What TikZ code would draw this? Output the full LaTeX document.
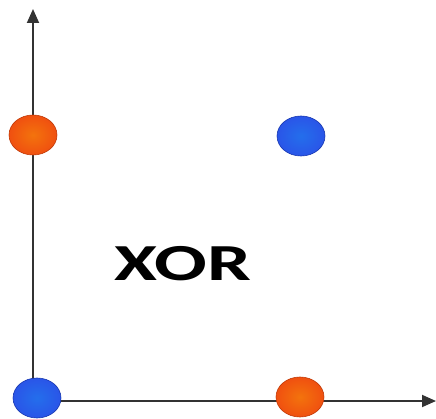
\documentclass[tikz,border=0pt]{standalone}
\usepackage{fontspec}
\setsansfont{Carlito}
\usepackage{xcolor}
\usetikzlibrary{positioning,arrows.meta,shapes.geometric}
\definecolor{axisgray}{HTML}{333333}
\definecolor{redpt}{HTML}{F05010}
\definecolor{redrim}{HTML}{C03A08}
\definecolor{bluept}{HTML}{2A55E8}
\definecolor{bluerim}{HTML}{1838B0}

\begin{document}
\begin{tikzpicture}[
  x=1pt,y=-1pt,
  axis/.style={-{Triangle[length=14pt,width=12pt]},line width=1.8pt,axisgray},
  dot/.style={ellipse,minimum width=48pt,minimum height=40pt,inner sep=0pt},
  hot/.style={dot,draw=redrim,line width=0.6pt,inner color=redpt!80!yellow,outer color=redpt},
  cold/.style={dot,draw=bluerim,line width=0.6pt,inner color=bluept!85!cyan,outer color=bluept}
]
\useasboundingbox (0,0) rectangle (436,419);
\coordinate (o) at (33,401);
\coordinate (ytip) at (33,9);
\coordinate (xtip) at (436,401);
\draw[axis] (o)--(ytip);
\draw[axis] (o)--(xtip);
\node[hot] (a) at (33,135) {};
\node[cold] (b) at (301,136) {};
\node[cold] (c) at (37,398) {};
\node[hot] (d) at (300,397) {};
\node[font=\sffamily\bfseries\fontsize{52}{52}\selectfont,xscale=1.5,inner sep=0pt] (lbl) at (183,264) {XOR};
\end{tikzpicture}
\end{document}
